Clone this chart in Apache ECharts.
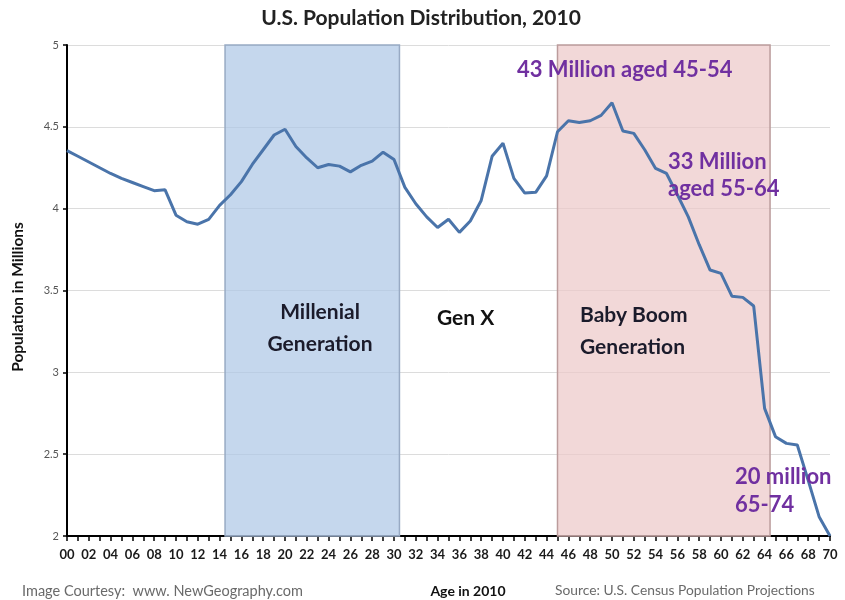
<!DOCTYPE html>
<html>
<head>
<meta charset="utf-8">
<script src="https://cdn.jsdelivr.net/npm/echarts@6/dist/echarts.min.js"></script>
<style>
  html, body { margin: 0; padding: 0; background: #fff; }
  #chart { width: 845px; height: 600px; }
</style>
</head>
<body>
<div id="chart"></div>
<script>
// Age in 2010 (years)
const ages = [
  0, 1, 2, 3, 4, 5, 6, 7, 8, 9,
  10, 11, 12, 13, 14, 15, 16, 17, 18, 19,
  20, 21, 22, 23, 24, 25, 26, 27, 28, 29,
  30, 31, 32, 33, 34, 35, 36, 37, 38, 39,
  40, 41, 42, 43, 44, 45, 46, 47, 48, 49,
  50, 51, 52, 53, 54, 55, 56, 57, 58, 59,
  60, 61, 62, 63, 64, 65, 66, 67, 68, 69,
  70
];

// Population at each single year of age, millions
const population = [
  4.355, 4.32, 4.285, 4.25, 4.215, 4.185, 4.16, 4.135, 4.11, 4.115,
  3.96, 3.92, 3.905, 3.935, 4.02, 4.085, 4.165, 4.27, 4.36, 4.45,
  4.485, 4.38, 4.31, 4.25, 4.27, 4.26, 4.225, 4.265, 4.29, 4.345,
  4.30, 4.13, 4.03, 3.95, 3.885, 3.935, 3.855, 3.925, 4.05, 4.32,
  4.40, 4.185, 4.095, 4.10, 4.20, 4.47, 4.537, 4.527, 4.537, 4.57,
  4.647, 4.475, 4.46, 4.36, 4.246, 4.215, 4.085, 3.95, 3.78, 3.625,
  3.605, 3.465, 3.458, 3.405, 2.78, 2.607, 2.566, 2.556, 2.34, 2.118,
  2.0
];

// Generation bands (age ranges)
const millennialSpan = [14.5, 30.5];
const boomerSpan = [45, 64.5];

const FONT = 'Lato, "Open Sans", sans-serif';
const PURPLE = '#7030a0';
const DARK = '#1b1b2b';

const chart = echarts.init(document.getElementById('chart'), null, { renderer: 'canvas' });

function txt(text, x, y, opts) {
  return {
    type: 'text',
    x: x, y: y,
    rotation: opts.rotation || 0,
    style: Object.assign({
      text: text,
      fontFamily: FONT,
      fontSize: 13,
      fontWeight: 'bold',
      fill: '#111',
      align: 'left',
      verticalAlign: 'middle'
    }, opts.style || {}),
    z: 100
  };
}

chart.setOption({
  animation: false,
  backgroundColor: '#fff',
  grid: { left: 67, right: 15, top: 45, bottom: 64 },
  xAxis: {
    type: 'value',
    min: 0,
    max: 70,
    interval: 2,
    axisLine: { show: true, onZero: false, lineStyle: { color: '#000', width: 2 } },
    axisTick: { show: true, length: 5, inside: false, lineStyle: { color: '#000', width: 1.5 } },
    minorTick: { show: true, splitNumber: 2, length: 5, lineStyle: { color: '#000', width: 1.5 } },
    splitLine: { show: false },
    axisLabel: {
      margin: 12,
      color: '#1a1a1a',
      fontFamily: FONT,
      fontWeight: 'bold',
      fontSize: 13,
      formatter: v => String(v).padStart(2, '0')
    }
  },
  yAxis: {
    type: 'value',
    min: 2,
    max: 5,
    interval: 0.5,
    axisLine: { show: true, lineStyle: { color: '#000', width: 2 } },
    axisTick: { show: true, length: 4, lineStyle: { color: '#000', width: 1.5 } },
    splitLine: { show: true, lineStyle: { color: '#dcdcdc', width: 1 } },
    axisLabel: {
      margin: 8,
      color: '#555',
      fontFamily: FONT,
      fontSize: 11,
      formatter: v => String(v)
    }
  },
  series: [{
    type: 'line',
    data: ages.map((a, i) => [a, population[i]]),
    symbol: 'none',
    lineStyle: { color: '#4a74aa', width: 3 },
    z: 5,
    markArea: {
      silent: true,
      data: [
        [
          { xAxis: millennialSpan[0], yAxis: 5, itemStyle: { color: 'rgba(172,198,230,0.7)', borderColor: '#98aac4', borderWidth: 1.5 } },
          { xAxis: millennialSpan[1], yAxis: 2 }
        ],
        [
          { xAxis: boomerSpan[0], yAxis: 5, itemStyle: { color: 'rgba(236,200,200,0.7)', borderColor: '#bb9c9c', borderWidth: 1.5 } },
          { xAxis: boomerSpan[1], yAxis: 2 }
        ]
      ]
    }
  }],
  graphic: [
    txt('U.S. Population Distribution, 2010', 421, 18, { style: { align: 'center', fontSize: 21, fill: '#222' } }),
    txt('Population in Millions', 18, 297, { rotation: Math.PI / 2, style: { align: 'center', fontSize: 15.5 } }),
    txt('Age in 2010', 468, 591, { style: { align: 'center', fontSize: 14 } }),
    txt('Image Courtesy:  www. NewGeography.com', 22, 591, { style: { fontWeight: 'normal', fontSize: 14.5, fill: '#6a6a6a' } }),
    txt('Source: U.S. Census Population Projections', 555, 591, { style: { fontWeight: 'normal', fontSize: 13.8, fill: '#6a6a6a' } }),

    txt('Millenial', 320, 312, { style: { align: 'center', fontSize: 21, fill: DARK } }),
    txt('Generation', 320, 344, { style: { align: 'center', fontSize: 21, fill: DARK } }),
    txt('Gen X', 437, 318, { style: { fontSize: 21, fill: '#111' } }),
    txt('Baby Boom', 580, 315, { style: { fontSize: 21, fill: DARK } }),
    txt('Generation', 580, 347, { style: { fontSize: 21, fill: DARK } }),

    txt('43 Million aged 45-54', 517, 70, { style: { fontSize: 22, fill: PURPLE } }),
    txt('33 Million', 668, 162, { style: { fontSize: 22, fill: PURPLE } }),
    txt('aged 55-64', 668, 189, { style: { fontSize: 22, fill: PURPLE } }),
    txt('20 million', 735, 477, { style: { fontSize: 22, fill: PURPLE } }),
    txt('65-74', 735, 505, { style: { fontSize: 22, fill: PURPLE } })
  ]
});
</script>
</body>
</html>
